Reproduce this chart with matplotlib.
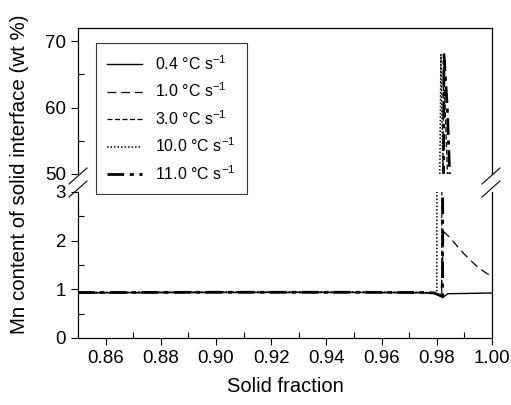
import matplotlib
matplotlib.use("Agg")
import matplotlib.pyplot as plt
from matplotlib.lines import Line2D

plt.rcParams['font.family'] = ['Liberation Sans', 'DejaVu Sans']
plt.rcParams['mathtext.fontset'] = 'custom'
plt.rcParams['mathtext.rm'] = 'Liberation Sans'
plt.rcParams['mathtext.it'] = 'Liberation Sans'

labels = ['0.4 °C s$^{-1}$', '1.0 °C s$^{-1}$', '3.0 °C s$^{-1}$',
          '10.0 °C s$^{-1}$', '11.0 °C s$^{-1}$']

# 0.4 °C/s
x04 = [0.85, 0.90, 0.95, 0.975, 0.979, 0.9805, 0.9815, 0.9822, 0.9828, 0.984, 0.99, 1.0]
y04 = [0.93, 0.935, 0.935, 0.93, 0.92, 0.89, 0.85, 0.83, 0.86, 0.91, 0.915, 0.925]
# 1.0 °C/s
x10 = [0.85, 0.90, 0.95, 0.975, 0.979, 0.9805, 0.9815, 0.9826, 0.985, 0.9875, 0.99,
       0.9925, 0.995, 0.9975, 1.0]
y10 = [0.93, 0.935, 0.935, 0.93, 0.92, 0.89, 0.86, 2.18, 2.05, 1.88, 1.72, 1.58,
       1.45, 1.35, 1.26]
# 3.0 °C/s
x30 = [0.85, 0.90, 0.95, 0.975, 0.979, 0.9805, 0.9818, 0.9824, 0.9832, 0.9842]
y30 = [0.93, 0.94, 0.94, 0.935, 0.92, 0.89, 0.86, 66.0, 58.0, 46.0]
# 10.0 °C/s
x100 = [0.85, 0.90, 0.95, 0.975, 0.979, 0.9800, 0.9815, 0.9818, 0.9824]
y100 = [0.94, 0.945, 0.945, 0.94, 0.93, 0.90, 68.0, 60.0, 46.0]
# 11.0 °C/s
x110 = [0.85, 0.90, 0.95, 0.975, 0.979, 0.9805, 0.9821, 0.9826, 0.9838, 0.9850]
y110 = [0.935, 0.94, 0.94, 0.935, 0.925, 0.89, 0.86, 68.0, 60.0, 46.0]

xticks = [0.86, 0.88, 0.90, 0.92, 0.94, 0.96, 0.98, 1.00]
yticks_low = [0, 1, 2, 3]
yticks_high = [50, 60, 70]

styles = [
    dict(color='black', lw=1.0, ls='-'),
    dict(color='black', lw=0.9, dashes=(7, 4)),
    dict(color='black', lw=0.9, dashes=(4, 2)),
    dict(color='black', lw=1.1, dashes=(1, 1.3)),
    dict(color='black', lw=2.0, dashes=(6, 2, 1.5, 2)),
]
series = [(x04, y04), (x10, y10), (x30, y30), (x100, y100), (x110, y110)]

fig = plt.figure(figsize=(5.11, 4.05), dpi=100)
W, H = 511, 405
L, R = 78 / W, 492 / W
ax_lo = fig.add_axes([L, 1 - 338 / H, R - L, (338 - 192) / H])
ax_hi = fig.add_axes([L, 1 - 174 / H, R - L, (174 - 28) / H])

for (xs, ys), st in zip(series, styles):
    for ax in (ax_lo, ax_hi):
        ax.plot(xs, ys, **st)

for ax in (ax_lo, ax_hi):
    ax.set_xlim(0.85, 1.00)
    ax.tick_params(axis='both', which='major', direction='out', length=5,
                   labelsize=13.5, width=0.8)
    ax.tick_params(axis='both', which='minor', direction='in', length=4, width=0.8)
    for s in ax.spines.values():
        s.set_linewidth(0.9)

ax_lo.set_ylim(0, 3)
ax_lo.set_yticks(yticks_low)
ax_lo.set_yticks([0.5, 1.5, 2.5], minor=True)
ax_lo.set_xticks(xticks)
ax_lo.set_xticklabels([f'{v:.2f}' for v in xticks])
ax_lo.set_xticks([0.87, 0.89, 0.91, 0.93, 0.95, 0.97, 0.99], minor=True)
ax_lo.spines['top'].set_visible(False)

ax_hi.set_ylim(50, 72)
ax_hi.set_yticks(yticks_high)
ax_hi.set_yticks([55, 65], minor=True)
ax_hi.set_xticks([])
ax_hi.spines['bottom'].set_visible(False)

ax_lo.set_xlabel('Solid fraction', fontsize=14.5, labelpad=7)
fig.text(20 / W, 1 - 174 / H, 'Mn content of solid interface (wt %)',
         rotation=90, ha='center', va='center', fontsize=14.8)

# break marks
for cx in (78, 491):
    for cy in (176, 189):
        fig.add_artist(Line2D([(cx - 9) / W, (cx + 9) / W],
                              [1 - (cy + 8) / H, 1 - (cy - 8) / H],
                              transform=fig.transFigure, color='black', lw=0.8))

handles = [Line2D([], [], **st) for st in styles]
leg = fig.legend(handles, labels, loc='upper left',
                 bbox_to_anchor=(96 / W, 1 - 43 / H), bbox_transform=fig.transFigure,
                 borderaxespad=0, fontsize=11.5, frameon=True, fancybox=False,
                 handlelength=2.2, labelspacing=0.55, borderpad=0.7,
                 handletextpad=0.8)
leg.get_frame().set_edgecolor('black')
leg.get_frame().set_linewidth(0.8)

fig.savefig('out.png', dpi=100)
